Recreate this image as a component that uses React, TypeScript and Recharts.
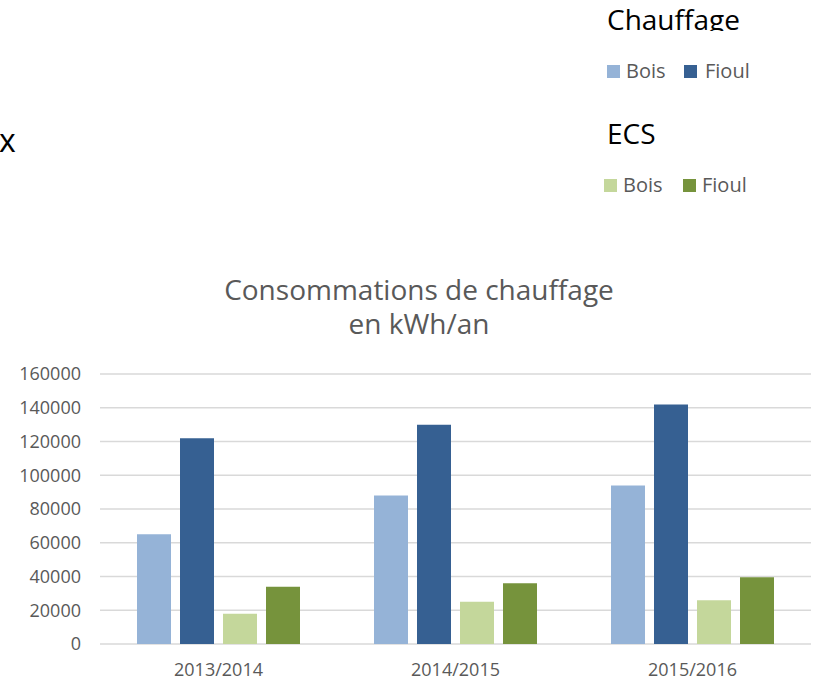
import { BarChart, Bar, XAxis, YAxis, CartesianGrid } from "recharts"

const categories = ["2013/2014", "2014/2015", "2015/2016"]
const chauffageBois = [65000, 88000, 94000]
const chauffageFioul = [122000, 130000, 142000]
const ecsBois = [18000, 25000, 26000]
const ecsFioul = [34000, 36000, 39500]
const yTicks = [0, 20000, 40000, 60000, 80000, 100000, 120000, 140000, 160000]

const titleLines = ["Consommations de chauffage", "en kWh/an"]
const legendGroups = [
  { title: "Chauffage", items: ["Bois", "Fioul"] },
  { title: "ECS", items: ["Bois", "Fioul"] },
]

const colors = {
  chauffageBois: "#95B3D7",
  chauffageFioul: "#366092",
  ecsBois: "#C4D79B",
  ecsFioul: "#76933C",
}

const data = categories.map((c, i) => ({
  name: c,
  chauffageBois: chauffageBois[i],
  chauffageFioul: chauffageFioul[i],
  ecsBois: ecsBois[i],
  ecsFioul: ecsFioul[i],
}))

const font = "'Open Sans', sans-serif"

export default function App() {
  const groupColors = [
    [colors.chauffageBois, colors.chauffageFioul],
    [colors.ecsBois, colors.ecsFioul],
  ]
  // legend block positions
  const groupLayout = [
    { titleY: 30, titleX: 607, rowY: 65, sq: [607, 684], txt: [626, 705] },
    { titleY: 144, titleX: 607, rowY: 179, sq: [604, 683], txt: [623, 702] },
  ]

  return (
    <div style={{ position: "absolute", left: 0, top: 0, width: 813, height: 680, background: "#fff" }}>
      <BarChart
        width={813}
        height={680}
        data={data}
        margin={{ top: 374, right: 2, left: 0, bottom: 0 }}
        barCategoryGap={37}
        barGap={9}
      >
        <CartesianGrid vertical={false} stroke="#D9D9D9" strokeWidth={1.5} />
        <XAxis
          dataKey="name"
          height={36}
          axisLine={false}
          tickLine={false}
          tickMargin={13}
          tick={{ fill: "#595959", fontSize: 18, fontFamily: font }}
        />
        <YAxis
          width={100}
          domain={[0, 160000]}
          ticks={yTicks}
          axisLine={false}
          tickLine={false}
          tickMargin={13}
          tick={{ fill: "#595959", fontSize: 18, fontFamily: font }}
        />
        <Bar dataKey="chauffageBois" fill={colors.chauffageBois} isAnimationActive={false} />
        <Bar dataKey="chauffageFioul" fill={colors.chauffageFioul} isAnimationActive={false} />
        <Bar dataKey="ecsBois" fill={colors.ecsBois} isAnimationActive={false} />
        <Bar dataKey="ecsFioul" fill={colors.ecsFioul} isAnimationActive={false} />
      </BarChart>

      <svg
        width={813}
        height={680}
        style={{ position: "absolute", left: 0, top: 0, pointerEvents: "none" }}
      >
        <defs>
          <clipPath id="cut-top">
            <rect x={0} y={0} width={813} height={31} />
          </clipPath>
        </defs>

        <text x={-1} y={152} fontSize={32} fontFamily={font} fill="#000">
          x
        </text>

        {/* two-line title as one text block */}
        <text x={419} y={300} textAnchor="middle" fontSize={28} fontFamily={font} fill="#595959">
          {titleLines.map((t, i) => (
            <tspan key={t} x={419} dy={i === 0 ? 0 : 34}>
              {t}
            </tspan>
          ))}
        </text>

        {legendGroups.map((g, gi) => {
          const l = groupLayout[gi]
          return (
            <g key={g.title}>
              <text
                x={l.titleX}
                y={l.titleY}
                fontSize={28}
                fontFamily={font}
                fill="#000"
                clipPath={gi === 0 ? "url(#cut-top)" : undefined}
              >
                {g.title}
              </text>
              {g.items.map((it, ii) => (
                <g key={it}>
                  <rect x={l.sq[ii]} y={l.rowY} width={13} height={13} fill={groupColors[gi][ii]} />
                  <text
                    x={l.txt[ii]}
                    y={l.rowY + 13}
                    fontSize={20}
                    fontFamily={font}
                    fill="#595959"
                  >
                    {it}
                  </text>
                </g>
              ))}
            </g>
          )
        })}
      </svg>
    </div>
  )
}
